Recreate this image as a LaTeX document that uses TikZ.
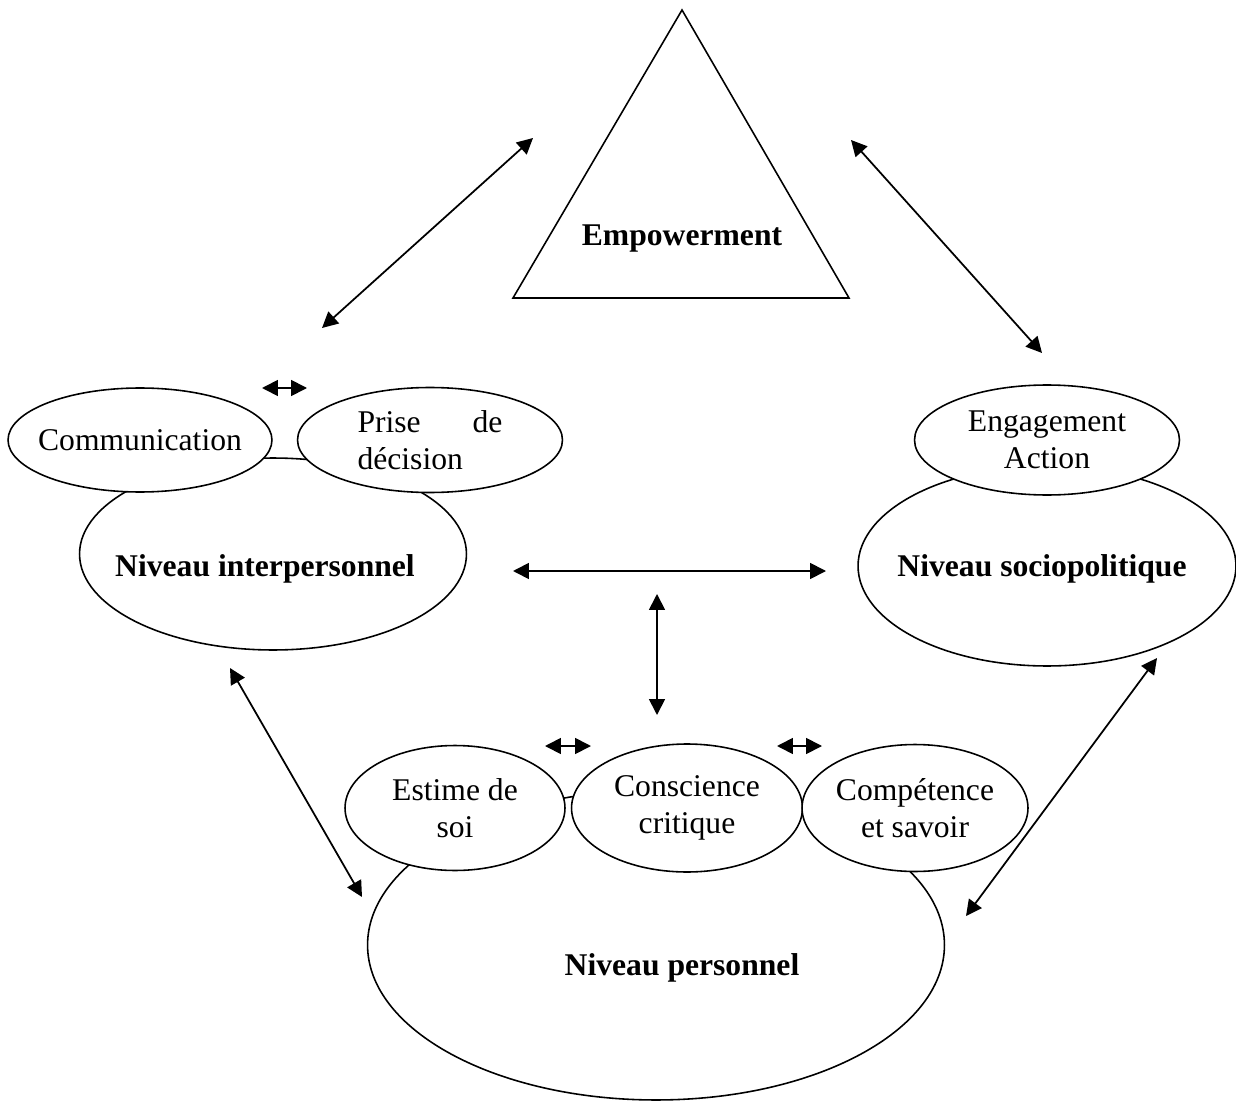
\documentclass[tikz,border=0pt]{standalone}
\usepackage{fontspec}
\setmainfont{Liberation Serif}
\usetikzlibrary{shapes.geometric,arrows.meta}

\tikzset{
  bulle/.style={ellipse, draw, fill=white, line width=0.9pt, inner sep=0pt, align=center},
  titre/.style={font=\fontsize{18}{21}\selectfont\bfseries},
  fleche/.style={{Triangle[length=9pt,width=9pt]}-{Triangle[length=9pt,width=9pt]}, line width=1pt},
}

\begin{document}
\begin{tikzpicture}[x=0.02cm,y=-0.02cm,font=\fontsize{18}{21}\selectfont]
\useasboundingbox (0,0) rectangle (1236,1104);

% triangle du haut
\coordinate (sommet) at (682,10);
\coordinate (baseG) at (513,298);
\coordinate (baseD) at (849,298);
\draw[line width=0.9pt] (baseG) -- (sommet) -- (baseD) -- cycle;
\node[titre] (empower) at (682,239) {Empowerment};

% les trois niveaux (grandes bulles d'abord)
\node[bulle, minimum width=7.74cm, minimum height=3.84cm] (inter) at (273,554) {};
\node[titre] (interlbl) at (265,569) {Niveau interpersonnel};
\node[bulle, minimum width=7.56cm, minimum height=4cm] (socio) at (1047,566) {};
\node[titre] (sociolbl) at (1042,569) {Niveau sociopolitique};
\node[bulle, minimum width=11.54cm, minimum height=6.2cm] (perso) at (656,945) {};
\node[titre] (persolbl) at (682,968) {Niveau personnel};

% petites bulles par-dessus
\node[bulle, inner xsep=-5pt, minimum width=5.28cm, minimum height=2.08cm] (comm) at (140,440) {Communication};
\node[bulle, minimum width=5.3cm, minimum height=2.1cm, text width=2.9cm, align=left] (prise) at (430,440) {Prise\hfill de\\décision};
\node[bulle, minimum width=5.3cm, minimum height=2.2cm] (engag) at (1047,440) {Engagement\\Action};
\node[bulle, minimum width=4.4cm, minimum height=2.5cm] (estime) at (455,808) {Estime de\\soi};
\node[bulle, minimum width=4.62cm, minimum height=2.56cm] (consc) at (687,808) {Conscience\\critique};
\node[bulle, minimum width=4.52cm, minimum height=2.54cm] (compet) at (915,808) {Compétence\\et savoir};

% bouts des fleches
\coordinate (tlA) at (322,328);  \coordinate (tlB) at (533,138);
\coordinate (trA) at (851,140);  \coordinate (trB) at (1042,353);
\coordinate (hA) at (513,571);   \coordinate (hB) at (826,571);
\coordinate (vA) at (657,594);   \coordinate (vB) at (657,715);
\coordinate (blA) at (230,668);  \coordinate (blB) at (362,897);
\coordinate (brA) at (1157,658); \coordinate (brB) at (966,916);
\coordinate (p1A) at (262,388);  \coordinate (p1B) at (307,388);
\coordinate (p2A) at (545,746);  \coordinate (p2B) at (591,746);
\coordinate (p3A) at (777,746);  \coordinate (p3B) at (822,746);

\draw[fleche] (tlA) -- (tlB);
\draw[fleche] (trA) -- (trB);
\draw[fleche] (hA) -- (hB);
\draw[fleche] (vA) -- (vB);
\draw[fleche] (blA) -- (blB);
\draw[fleche] (brA) -- (brB);
\draw[fleche] (p1A) -- (p1B);
\draw[fleche] (p2A) -- (p2B);
\draw[fleche] (p3A) -- (p3B);
\end{tikzpicture}
\end{document}
